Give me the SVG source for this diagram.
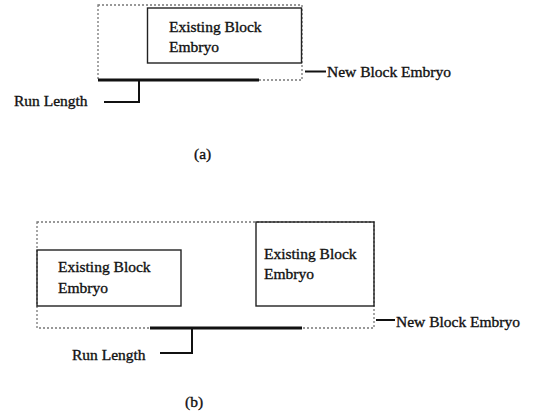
<svg xmlns="http://www.w3.org/2000/svg" width="557" height="415" viewBox="0 0 557 415">
<style>
text{font-family:"Liberation Serif","Times New Roman",serif;font-size:15.5px;fill:#111;stroke:#111;stroke-width:0.35}
.box{fill:none;stroke:#222;stroke-width:1.4}
.dash{fill:none;stroke:#777;stroke-width:1.3;stroke-dasharray:2 2}
.thick{stroke:#111;stroke-width:3;fill:none}
.lead{stroke:#111;stroke-width:2;fill:none}
</style>
<rect width="557" height="415" fill="#fff"/>
<g id="a-new-block">
<rect class="dash" x="98" y="5" width="204" height="75"/>
<text x="327" y="77">New Block Embryo</text>
</g>
<g id="a-existing">
<rect class="box" x="147.5" y="8" width="154" height="55"/>
<text x="169" y="32">Existing Block</text>
<text x="169" y="52">Embryo</text>
</g>
<g id="a-run">
<text x="14" y="106">Run Length</text>
</g>
<g id="a-caption"><text x="194" y="159">(a)</text></g>
<g id="b-new-block">
<rect class="dash" x="37" y="222" width="337" height="106"/>
<text x="396" y="327">New Block Embryo</text>
</g>
<g id="b-existing-left">
<rect class="box" x="37" y="250" width="144" height="56"/>
<text x="58" y="272">Existing Block</text>
<text x="58" y="293">Embryo</text>
</g>
<g id="b-existing-right">
<rect class="box" x="256" y="222" width="118" height="84"/>
<text x="264" y="259">Existing Block</text>
<text x="264" y="279">Embryo</text>
</g>
<g id="b-run"><text x="72" y="360">Run Length</text></g>
<g id="b-caption"><text x="185" y="407">(b)</text></g>
<g id="connectors">
<line class="thick" x1="98" y1="80" x2="259" y2="80"/>
<polyline class="lead" points="139,80 139,102 104,102"/>
<line class="lead" x1="305" y1="71.5" x2="326" y2="71.5" stroke-width="1.6"/>
<line class="thick" x1="150" y1="328" x2="302" y2="328"/>
<polyline class="lead" points="192,328 192,353 160,353"/>
<line class="lead" x1="376" y1="320" x2="395" y2="320" stroke-width="1.6"/>
</g>
</svg>
